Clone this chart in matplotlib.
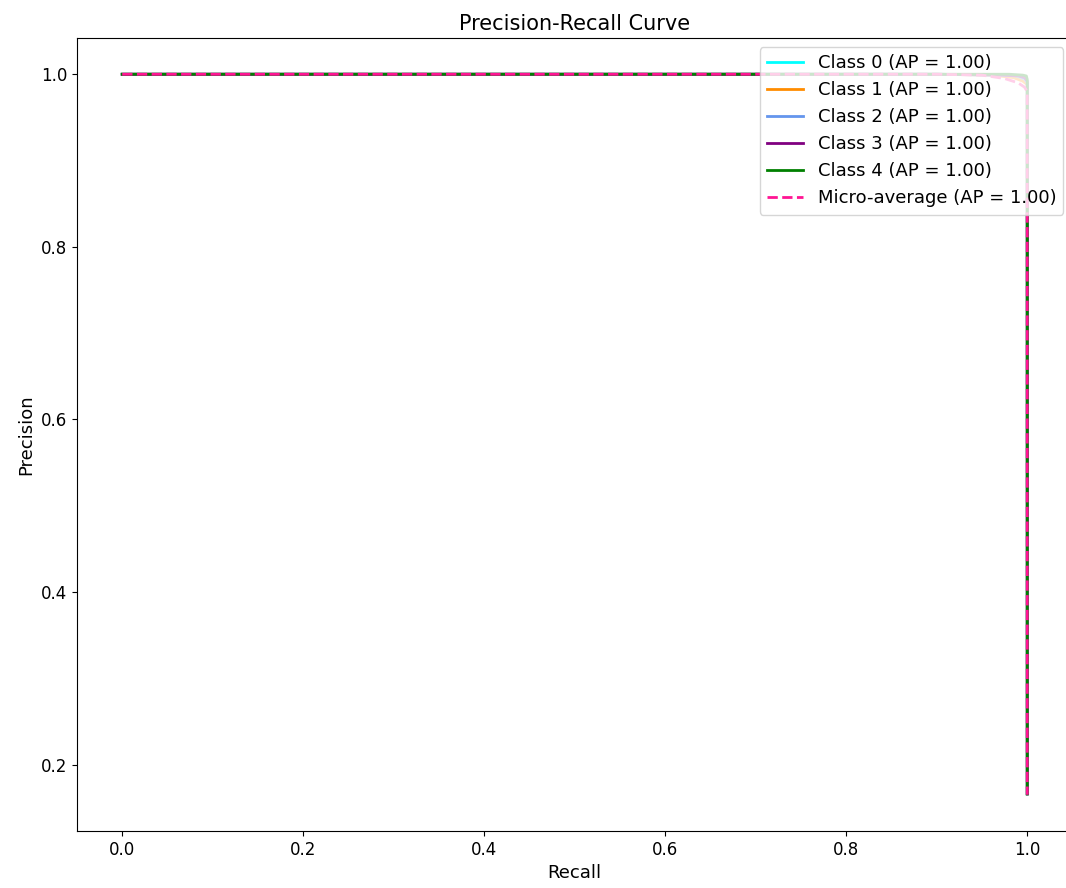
import matplotlib
matplotlib.use("Agg")
import matplotlib.pyplot as plt

# precision-recall points per class
recall_c0 = [0.0, 0.50, 0.90, 0.97, 0.99, 0.997, 1.0, 1.0]
prec_c0 = [1.0, 1.0, 1.0, 0.999, 0.997, 0.994, 0.99, 0.166]
recall_c1 = [0.0, 0.50, 0.90, 0.96, 0.985, 0.995, 1.0, 1.0]
prec_c1 = [1.0, 1.0, 1.0, 0.999, 0.996, 0.992, 0.988, 0.166]
recall_c2 = [0.0, 0.50, 0.90, 0.97, 0.99, 0.997, 1.0, 1.0]
prec_c2 = [1.0, 1.0, 1.0, 0.999, 0.998, 0.995, 0.99, 0.166]
recall_c3 = [0.0, 0.50, 0.90, 0.97, 0.99, 0.997, 1.0, 1.0]
prec_c3 = [1.0, 1.0, 1.0, 0.999, 0.998, 0.996, 0.992, 0.166]
recall_c4 = [0.0, 0.50, 0.90, 0.98, 0.995, 0.999, 1.0, 1.0]
prec_c4 = [1.0, 1.0, 1.0, 1.0, 0.999, 0.998, 0.994, 0.166]
recall_micro = [0.0, 0.50, 0.90, 0.95, 0.975, 0.99, 0.997, 1.0, 1.0]
prec_micro = [1.0, 1.0, 1.0, 0.999, 0.995, 0.99, 0.985, 0.98, 0.165]

ap = [1.00, 1.00, 1.00, 1.00, 1.00]
ap_micro = 1.00
colors = ["aqua", "darkorange", "cornflowerblue", "purple", "green"]

recalls = [recall_c0, recall_c1, recall_c2, recall_c3, recall_c4]
precs = [prec_c0, prec_c1, prec_c2, prec_c3, prec_c4]

fig = plt.figure(figsize=(10.66, 8.88), dpi=100)
ax = fig.add_axes([0.0722, 0.0642, 0.9339, 0.8930])

for i in range(5):
    ax.plot(recalls[i], precs[i], color=colors[i], lw=2,
            label="Class %d (AP = %.2f)" % (i, ap[i]))
ax.plot(recall_micro, prec_micro, color="deeppink", lw=2, linestyle="--",
        label="Micro-average (AP = %.2f)" % ap_micro)

ax.set_xlim(-0.05, 1.05)
ax.set_ylim(0.123, 1.042)
ax.set_xticks([0.0, 0.2, 0.4, 0.6, 0.8, 1.0])
ax.set_yticks([0.2, 0.4, 0.6, 0.8, 1.0])
ax.tick_params(labelsize=12)
ax.set_xlabel("Recall", fontsize=13)
ax.set_ylabel("Precision", fontsize=13)
ax.set_title("Precision-Recall Curve", fontsize=15)
ax.legend(loc="upper right", fontsize=13)

fig.savefig("out.png", dpi=100)
